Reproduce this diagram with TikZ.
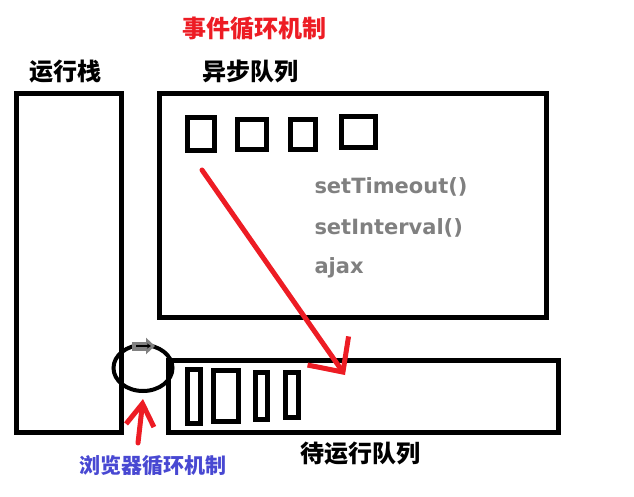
\documentclass[tikz,border=0pt]{standalone}
\usepackage{fontspec}
\setmainfont{Noto Sans CJK SC}
\newfontfamily\apifont{DejaVu Sans}
\usetikzlibrary{arrows.meta}
\usetikzlibrary{shapes.geometric}

\definecolor{paintred}{RGB}{237,28,36}
\definecolor{loopblue}{RGB}{72,72,210}
\definecolor{apigray}{RGB}{128,128,128}

\tikzset{
  title/.style={font=\bfseries\fontsize{24}{28}\selectfont, inner sep=0pt},
  api/.style={font=\apifont\bfseries\fontsize{21}{26}\selectfont, text=apigray, anchor=west, inner sep=0pt},
  redarrow/.style={paintred, line width=5pt, line cap=round, line join=round}
}

\begin{document}
\begin{tikzpicture} [x=1pt, y=-1pt, line width=5pt]
\useasboundingbox (0,0) rectangle (634,497);

% stack, async queue, waiting queue
\draw (16,94) rectangle (121,432);
\draw (159,94) rectangle (546,317);
\draw (168,360) rectangle (558,432);

\foreach \xa/\ya/\xb/\yb in {187.5/117.5/214.5/150.5, 237.5/119.5/266.5/149.5, 290.5/119.5/315.5/149.5, 341.5/116.5/375.5/147.5}
 \draw (\xa,\ya) rectangle (\xb,\yb);
\foreach \xa/\ya/\xb/\yb in {187.5/369.5/200.5/423.5, 213.5/370.5/238.5/421.5, 255.5/372.5/267.5/419.5, 285.5/372.5/298.5/417.5}
 \draw (\xa,\ya) rectangle (\xb,\yb);

\node[title, paintred] (evloop) at (254,29) {事件循环机制};
\node[title] (stack) at (65,72) {运行栈};
\node[title] (async) at (250,72) {异步队列};
\node[title] (wait) at (360,454) {待运行队列};
\node[title, loopblue, font=\bfseries\fontsize{21}{25}\selectfont] (browser) at (153,466) {浏览器循环机制};

\node[api] (timeout) at (312,187) {setTimeout()};
\node[api] (interval) at (312,228) {setInterval()};
\node[api] (ajax) at (312,268) {ajax};

% browser loop
\node[draw, ellipse, line width=4pt, minimum width=59pt, minimum height=46pt, inner sep=0pt] (loop) at (143,368) {};
\draw[apigray, line width=9pt, -{Triangle[length=9pt, width=16pt]}] ([xshift=-11pt, yshift=-3pt]loop.north) -- ([xshift=12pt, yshift=-3pt]loop.north);
\draw[black, line width=1.2pt, -{Stealth[length=4pt, width=5pt]}] ([xshift=-7pt, yshift=-3pt]loop.north) -- ([xshift=8pt, yshift=-3pt]loop.north);

\coordinate (src) at (202,170);
\coordinate (dst) at (345,375);
\coordinate (push) at (138,443);
\draw[redarrow, -{Straight Barb[length=26pt, width=50pt, line width=5pt]}] (src) -- (dst);
\draw[redarrow, -{Straight Barb[length=22pt, width=28pt, line width=5pt]}] (push) -- ([yshift=-6pt]loop.south);

\end{tikzpicture}
\end{document}
